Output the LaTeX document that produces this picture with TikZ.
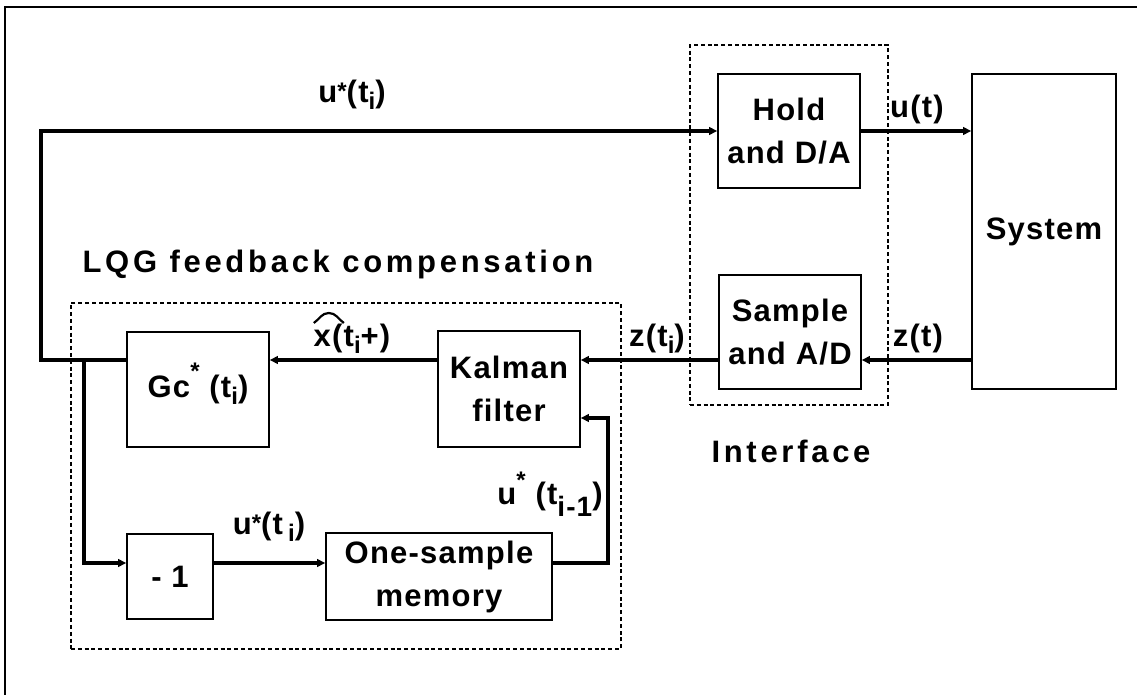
\documentclass[tikz,border=0pt]{standalone}
\usepackage{fontspec}
\setmainfont{Liberation Sans}[LetterSpace=4]
\newfontfamily\widefont{Liberation Sans}[LetterSpace=12]
\usetikzlibrary{arrows.meta}
\newcommand{\Sb}[1]{\raisebox{-3.5pt}{\fontsize{12}{12}\selectfont #1}}
\newcommand{\Sbb}[1]{\raisebox{-6pt}{\fontsize{14}{14}\selectfont #1}}
\newcommand{\St}{\raisebox{1.5pt}{\fontsize{12}{12}\selectfont *}}
\newcommand{\Sth}[1]{\smash{\raisebox{#1}{\fontsize{12}{12}\selectfont *}}}
\begin{document}
\begin{tikzpicture}[x=0.5pt,y=-0.5pt,
  every node/.style={font=\fontsize{15.5}{21.5}\selectfont\bfseries},
  blk/.style={draw,line width=0.8pt,inner sep=0pt,align=center},
  dbox/.style={draw,line width=0.8pt,dash pattern=on 2pt off 1.4pt,inner sep=0pt},
  lbl/.style={inner sep=0pt,anchor=base},
  conn/.style={line width=1.7pt},
  arr/.style={line width=1.7pt,-{Triangle[length=4pt,width=3.8pt]}},
  frameline/.style={line width=1pt}]
\fill[white] (0,0) rectangle (1137,695);
\useasboundingbox (0,0) rectangle (1137,695);
% frame
\draw[frameline] (5,695) -- (5,7) -- (1137,7);
% helper coordinates
\coordinate (zline) at (0,360);
\coordinate (nline) at (0,563);
\coordinate (kfb) at (0,418);
\coordinate (lx) at (41,0);
\coordinate (jx) at (84,0);
\coordinate (fx) at (608,0);
% dashed groups
\node[dbox,minimum width=99pt,minimum height=180pt] (iface) at (789,225) {};
\node[dbox,minimum width=275pt,minimum height=173pt] (lqg) at (346,476) {};
% blocks
\node[blk,minimum width=71pt,minimum height=57pt] (hold) at (789,131) {Hold\\and D/A};
\node[blk,minimum width=71pt,minimum height=57pt] (sample) at (790,332) {Sample\\and A/D};
\node[blk,minimum width=72pt,minimum height=157.5pt] (system) at (1044,231.5) {System};
\node[blk,minimum width=71pt,minimum height=57.5pt] (gc) at (198,389.5) {\raisebox{-6pt}{Gc\Sth{9pt}\ (t\Sb{i})}};
\node[blk,minimum width=71pt,minimum height=58pt] (kalman) at (509,389) {Kalman\\filter};
\node[blk,minimum width=43pt,minimum height=42.5pt] (neg) at (170,576.5) {- 1};
\node[blk,minimum width=113pt,minimum height=43.5pt] (mem) at (439,576.5) {One-sample\\memory};
% labels
\node[lbl] (ustartop) at (352,103) {u\St(t\Sb{i})};
\node[lbl] (ut) at (917,118) {u(t)};
\node[lbl] (zt) at (918,347) {z(t)};
\node[lbl] (zti) at (657,347) {z(t\Sb{i})};
\node[lbl] (xh) at (352,347) {x(t\Sb{i}+)};
\draw[line width=1.1pt] ([xshift=0.3pt,yshift=12pt]xh.base west) to[out=35,in=180] ++(7.5pt,5pt) to[out=0,in=145] ++(7.5pt,-5pt);
\node[lbl,font=\fontsize{15.5}{18}\selectfont\bfseries\widefont] (lqgt) at (338,273) {LQG feedback compensation};
\node[lbl,font=\fontsize{15.5}{18}\selectfont\bfseries\widefont] (ifacet) at (791,463) {Interface};
\node[lbl] (ustarmid) at (269,535) {u\St(t\,\Sb{i})};
\node[lbl] (ustarprev) at (550,505) {u\Sth{8pt}\ (t\Sbb{i-1})};
% connectors
\draw[arr] (hold.east) -- (system.west |- hold.east);
\draw[arr] (system.west |- zline) -- (sample.east |- zline);
\draw[arr] (sample.west |- zline) -- (kalman.east |- zline);
\draw[arr] (kalman.west |- zline) -- (gc.east |- zline);
\draw[arr] (gc.west |- zline) -- (lx |- zline) -- (lx |- hold.west) -- (hold.west);
\draw[arr] (jx |- zline) -- (jx |- nline) -- (neg.west |- nline);
\draw[arr] (neg.east |- nline) -- (mem.west |- nline);
\draw[arr] (mem.east |- nline) -- (fx |- nline) -- (fx |- kfb) -- (kalman.east |- kfb);
\end{tikzpicture}
\end{document}
